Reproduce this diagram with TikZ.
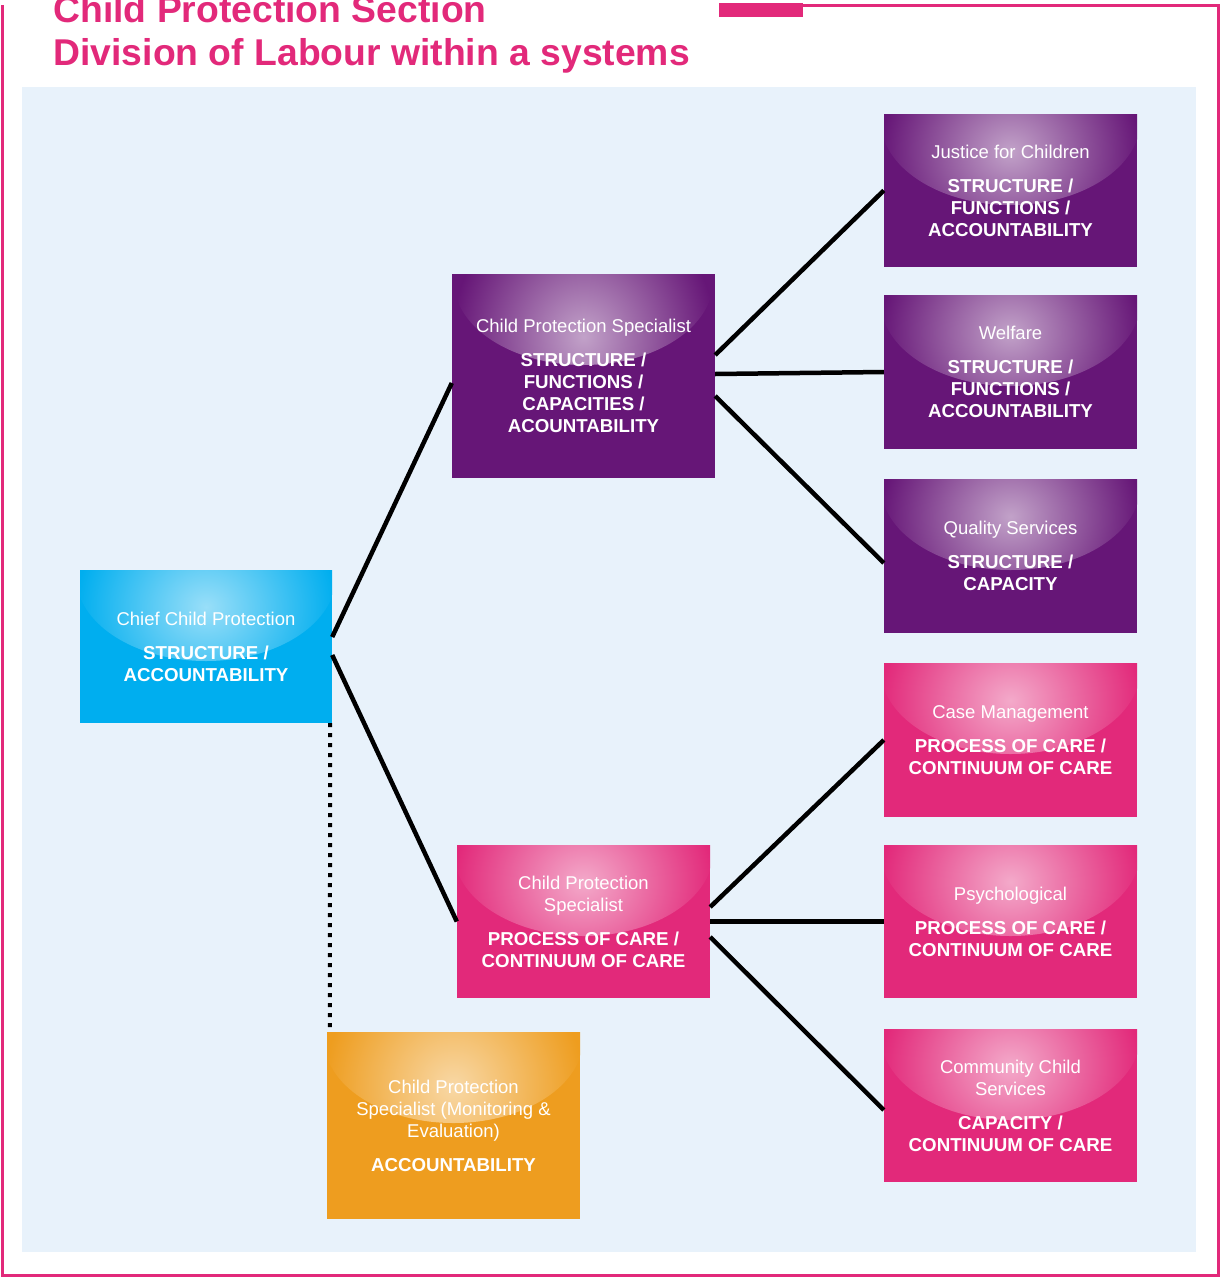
\documentclass[tikz,border=0pt]{standalone}
\usepackage{fontspec}
\setmainfont{Liberation Sans}
\definecolor{bgblue}{HTML}{E8F2FB}
\definecolor{cppink}{HTML}{E2297A}
\definecolor{cppurple}{HTML}{661677}
\definecolor{cpcyan}{HTML}{00AEEF}
\definecolor{cporange}{HTML}{EE9D1F}
\newcommand\rolename[1]{{\fontsize{18.5}{22}\selectfont\mdseries #1}}

\begin{document}
\begin{tikzpicture}[x=1pt,y=-1pt,
  card/.style={rectangle,inner sep=0pt,minimum width=253pt,minimum height=154pt,
    fill=#1,text=white,align=center,font=\fontsize{18.7}{22}\selectfont\bfseries,
    path picture={\shade[inner color=#1!40!white,outer color=#1]
      ([yshift=-6pt]path picture bounding box.north) ellipse (130 and 85);}},
  link/.style={line width=4.5pt,black},
  title/.style={anchor=base west,text=cppink,font=\fontsize{37.3}{43}\selectfont\bfseries}]
\useasboundingbox (0,0) rectangle (1220,1277);
\fill[bgblue] (22,87) rectangle (1196,1252);
\draw[cppink,line width=3pt] (2,5) -- (2,1275.5) -- (1218,1275.5) -- (1218,5) -- (719,5);
\fill[cppink] (719,3) rectangle (803,17);
\node[title] (title) at (50,22) {Child Protection Section};
\node[title] (subtitle) at (50,65) {Division of Labour within a systems};

\node[card=cpcyan,minimum width=252pt,minimum height=153pt] (chief) at (206,646.5)
  {\rolename{Chief Child Protection}\\[12pt]STRUCTURE /\\ACCOUNTABILITY};
\node[card=cppurple,minimum width=263pt,minimum height=204pt] (cpsA) at (583.5,376)
  {\rolename{Child Protection Specialist}\\[12pt]STRUCTURE /\\FUNCTIONS /\\CAPACITIES /\\ACOUNTABILITY};
\node[card=cppink,minimum height=153pt] (cpsB) at (583.5,921.5)
  {\rolename{Child Protection}\\\rolename{Specialist}\\[12pt]PROCESS OF CARE /\\CONTINUUM OF CARE};
\node[card=cporange,minimum height=187pt] (monev) at (453.5,1125.5)
  {\rolename{Child Protection}\\\rolename{Specialist (Monitoring \&}\\\rolename{Evaluation)}\\[12pt]ACCOUNTABILITY};

\node[card=cppurple,minimum height=153pt] (justice) at (1010.5,190.5)
  {\rolename{Justice for Children}\\[12pt]STRUCTURE /\\FUNCTIONS /\\ACCOUNTABILITY};
\node[card=cppurple] (welfare) at (1010.5,372)
  {\rolename{Welfare}\\[12pt]STRUCTURE /\\FUNCTIONS /\\ACCOUNTABILITY};
\node[card=cppurple] (quality) at (1010.5,556)
  {\rolename{Quality Services}\\[12pt]STRUCTURE /\\CAPACITY};
\node[card=cppink] (casemgmt) at (1010.5,740)
  {\rolename{Case Management}\\[12pt]PROCESS OF CARE /\\CONTINUUM OF CARE};
\node[card=cppink,minimum height=153pt] (psych) at (1010.5,921.5)
  {\rolename{Psychological}\\[12pt]PROCESS OF CARE /\\CONTINUUM OF CARE};
\node[card=cppink,minimum height=153pt] (community) at (1010.5,1105.5)
  {\rolename{Community Child}\\\rolename{Services}\\[12pt]CAPACITY /\\CONTINUUM OF CARE};

\draw[link] ([yshift=9.5pt]chief.east) -- ([yshift=-7pt]cpsA.west);
\draw[link] ([yshift=-8.5pt]chief.east) -- (cpsB.west);
\draw[link] ([yshift=21pt]cpsA.east) -- (justice.west);
\draw[link] ([yshift=2pt]cpsA.east) -- (welfare.west);
\draw[link] ([yshift=-20pt]cpsA.east) -- ([yshift=-7pt]quality.west);
\draw[link] ([yshift=14.5pt]cpsB.east) -- (casemgmt.west);
\draw[link] (cpsB.east) -- (psych.west);
\draw[link] ([yshift=-15.5pt]cpsB.east) -- ([yshift=-4.5pt]community.west);
\draw[line width=4pt,dash pattern=on 4pt off 6pt] ([xshift=-2pt]chief.south east) -- ([xshift=3pt]monev.north west);
\end{tikzpicture}
\end{document}
